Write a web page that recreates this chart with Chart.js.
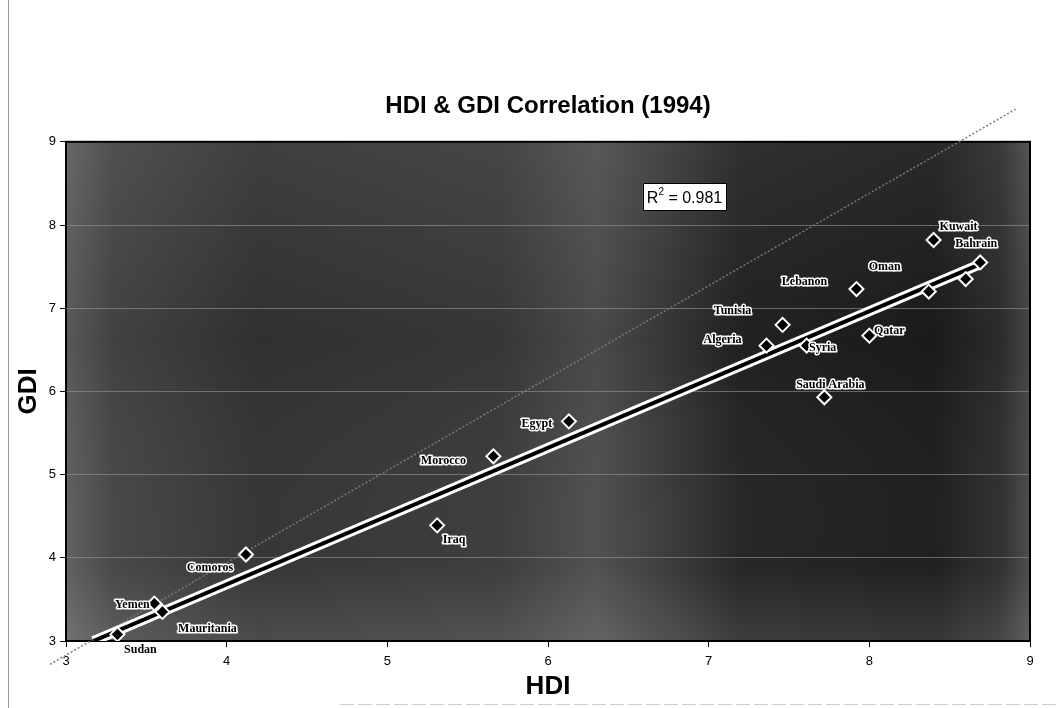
<!DOCTYPE html>
<html>
<head>
<meta charset="utf-8">
<title>HDI &amp; GDI Correlation (1994)</title>
<script src="https://cdn.jsdelivr.net/npm/chart.js@4.4.1/dist/chart.umd.min.js"></script>
<style>
  html, body { margin: 0; padding: 0; background: #fff; }
  #wrap { position: relative; width: 1056px; height: 708px; }
</style>
</head>
<body>
<div id="wrap"><canvas id="chart"></canvas></div>
<script>
// values
const countries = ['Sudan', 'Mauritania', 'Yemen', 'Comoros', 'Iraq', 'Morocco', 'Egypt',
    'Algeria', 'Tunisia', 'Syria', 'Saudi Arabia', 'Qatar', 'Lebanon', 'Oman', 'Kuwait', 'Bahrain', 'UAE'];
const hdi = [3.32, 3.60, 3.55, 4.12, 5.31, 5.66, 6.13, 7.36, 7.46, 7.61, 7.72, 8.00, 7.92, 8.37, 8.40, 8.69, 8.60];
const gdi = [3.08, 3.35, 3.45, 4.04, 4.39, 5.22, 5.64, 6.55, 6.80, 6.55, 5.93, 6.67, 7.23, 7.20, 7.82, 7.55, 7.35];

// linear trendline end points and the dotted reference line
const trendHdi = [3.17, 8.69];
const trendGdi = [3.00, 7.53];
const refHdi = [2.90, 8.91];
const refGdi = [2.72, 9.39];

const axisMin = 3;
const axisMax = 9;
const rSquared = '0.981';
const rBoxAt = { x: 6.85, y: 8.34 };

// label offsets in px from each diamond (UAE has no label in the original)
const labelOffsets = {
    'Sudan': [23, 16], 'Mauritania': [45, 17], 'Yemen': [-22, 1], 'Comoros': [-36, 13],
    'Iraq': [17, 15], 'Morocco': [-50, 5], 'Egypt': [-32, 3], 'Algeria': [-44, -6],
    'Tunisia': [-50, -14], 'Syria': [16, 2], 'Saudi Arabia': [6, -12], 'Qatar': [20, -5],
    'Lebanon': [-52, -7], 'Oman': [-44, -25], 'Kuwait': [25, -13], 'Bahrain': [-4, -19]
};

const toPoints = (xs, ys) => xs.map((x, i) => ({ x: x, y: ys[i] }));

const pagePlugin = {
    id: 'page',
    beforeDraw(chart) {
        const { ctx, chartArea: a } = chart;
        ctx.save();
        ctx.fillStyle = '#fff';
        ctx.fillRect(0, 0, chart.width, chart.height);
        // frame edges of the scanned page
        ctx.strokeStyle = '#9a9a9a';
        ctx.lineWidth = 1;
        ctx.beginPath();
        ctx.moveTo(8.5, 0);
        ctx.lineTo(8.5, chart.height);
        ctx.stroke();
        ctx.strokeStyle = '#cfcfcf';
        ctx.setLineDash([14, 4]);
        ctx.beginPath();
        ctx.moveTo(340, 704.5);
        ctx.lineTo(chart.width, 704.5);
        ctx.stroke();
        ctx.setLineDash([]);

        // dark mottled plot area
        const g = ctx.createLinearGradient(a.left, 0, a.right, 0);
        g.addColorStop(0, '#5e5e5e');
        g.addColorStop(0.05, '#454545');
        g.addColorStop(0.2, '#333');
        g.addColorStop(0.45, '#3a3a3a');
        g.addColorStop(0.55, '#4e4e4e');
        g.addColorStop(0.62, '#3a3a3a');
        g.addColorStop(0.7, '#232323');
        g.addColorStop(0.9, '#1c1c1c');
        g.addColorStop(0.97, '#2e2e2e');
        g.addColorStop(1, '#4a4a4a');
        ctx.fillStyle = g;
        ctx.fillRect(a.left, a.top, a.right - a.left, a.bottom - a.top);
        const v = ctx.createLinearGradient(0, a.top, 0, a.bottom);
        v.addColorStop(0, 'rgba(255,255,255,0.06)');
        v.addColorStop(0.4, 'rgba(0,0,0,0.06)');
        v.addColorStop(0.85, 'rgba(255,255,255,0.02)');
        v.addColorStop(1, 'rgba(255,255,255,0.12)');
        ctx.fillStyle = v;
        ctx.fillRect(a.left, a.top, a.right - a.left, a.bottom - a.top);
        ctx.restore();
    },
    beforeDatasetsDraw(chart) {
        const { ctx, chartArea: a } = chart;
        ctx.save();
        ctx.strokeStyle = '#000';
        ctx.lineWidth = 2;
        ctx.strokeRect(a.left, a.top, a.right - a.left, a.bottom - a.top);
        ctx.restore();
    },
    afterDatasetsDraw(chart) {
        const { ctx } = chart;
        const meta = chart.getDatasetMeta(0);
        ctx.save();
        ctx.font = 'bold 12px "Liberation Serif", "DejaVu Serif", serif';
        ctx.textAlign = 'center';
        ctx.textBaseline = 'middle';
        ctx.lineJoin = 'round';
        countries.forEach((name, i) => {
            const off = labelOffsets[name];
            if (!off) return;
            const pt = meta.data[i];
            const x = pt.x + off[0];
            const y = pt.y + off[1];
            ctx.strokeStyle = '#fff';
            ctx.lineWidth = 3;
            ctx.strokeText(name, x, y);
            ctx.fillStyle = '#000';
            ctx.fillText(name, x, y);
        });

        // R squared box
        const cx = chart.scales.x.getPixelForValue(rBoxAt.x);
        const cy = chart.scales.y.getPixelForValue(rBoxAt.y);
        const main = 'R';
        const rest = ' = ' + rSquared;
        ctx.font = '16px "Liberation Sans", Arial, sans-serif';
        const w1 = ctx.measureText(main).width;
        const w3 = ctx.measureText(rest).width;
        ctx.font = '10px "Liberation Sans", Arial, sans-serif';
        const w2 = ctx.measureText('2').width;
        const total = w1 + w2 + w3;
        const bw = total + 8, bh = 27;
        ctx.fillStyle = '#fff';
        ctx.fillRect(cx - bw / 2, cy - bh / 2, bw, bh);
        ctx.strokeStyle = '#000';
        ctx.lineWidth = 1;
        ctx.strokeRect(Math.round(cx - bw / 2) + 0.5, Math.round(cy - bh / 2) + 0.5, Math.round(bw), bh);
        ctx.fillStyle = '#000';
        ctx.textAlign = 'left';
        ctx.textBaseline = 'alphabetic';
        let x0 = cx - total / 2;
        ctx.font = '16px "Liberation Sans", Arial, sans-serif';
        ctx.fillText(main, x0, cy + 6);
        ctx.font = '10px "Liberation Sans", Arial, sans-serif';
        ctx.fillText('2', x0 + w1, cy - 2);
        ctx.font = '16px "Liberation Sans", Arial, sans-serif';
        ctx.fillText(rest, x0 + w1 + w2, cy + 6);
        ctx.restore();
    }
};

const ctx = document.getElementById('chart').getContext('2d');
new Chart(ctx, {
    type: 'scatter',
    data: {
        datasets: [
            {
                label: 'Countries',
                data: toPoints(hdi, gdi),
                pointStyle: 'rectRot',
                pointRadius: 7,
                pointBackgroundColor: '#000',
                pointBorderColor: '#fff',
                pointBorderWidth: 2
            },
            {
                label: 'Trend',
                data: toPoints(trendHdi, trendGdi),
                showLine: true,
                borderColor: '#000',
                borderWidth: 4,
                pointRadius: 0
            },
            {
                label: 'Trend halo',
                data: toPoints(trendHdi, trendGdi),
                showLine: true,
                borderColor: '#fff',
                borderWidth: 10,
                pointRadius: 0
            },
            {
                label: 'Reference',
                data: toPoints(refHdi, refGdi),
                showLine: true,
                borderColor: '#7a7a7a',
                borderWidth: 1.5,
                borderDash: [2, 2],
                pointRadius: 0,
                clip: false
            }
        ]
    },
    options: {
        responsive: true,
        maintainAspectRatio: false,
        animation: false,
        layout: { padding: { left: 0, right: 26, top: 0, bottom: 0 } },
        plugins: {
            legend: { display: false },
            tooltip: { enabled: false },
            title: {
                display: true,
                fullSize: false,
                text: 'HDI & GDI Correlation (1994)',
                color: '#000',
                font: { family: '"Liberation Sans", Arial, sans-serif', size: 24, weight: 'bold' },
                padding: { top: 92, bottom: 21 }
            }
        },
        scales: {
            x: {
                type: 'linear',
                min: axisMin,
                max: axisMax,
                afterFit: (scale) => { scale.height = 67; },
                ticks: {
                    stepSize: 1,
                    color: '#000',
                    padding: 7,
                    font: { family: '"Liberation Sans", Arial, sans-serif', size: 13 }
                },
                grid: { drawOnChartArea: false, tickColor: '#000', tickLength: 6 },
                border: { color: '#000', width: 2 },
                title: {
                    display: true,
                    text: 'HDI',
                    color: '#000',
                    font: { family: '"Liberation Sans", Arial, sans-serif', size: 26, weight: 'bold' },
                    padding: { top: 0, bottom: 6 }
                }
            },
            y: {
                type: 'linear',
                min: axisMin,
                max: axisMax,
                afterFit: (scale) => { scale.width = 66; },
                ticks: {
                    stepSize: 1,
                    color: '#000',
                    padding: 4,
                    font: { family: '"Liberation Sans", Arial, sans-serif', size: 13 }
                },
                grid: { color: 'rgba(150,150,150,0.6)', lineWidth: 1, tickColor: '#000', tickLength: 6 },
                border: { color: '#000', width: 2 },
                title: {
                    display: true,
                    text: 'GDI',
                    color: '#000',
                    font: { family: '"Liberation Sans", Arial, sans-serif', size: 26, weight: 'bold' },
                    padding: { top: 13, bottom: 0 }
                }
            }
        }
    },
    plugins: [pagePlugin]
});
</script>
</body>
</html>
